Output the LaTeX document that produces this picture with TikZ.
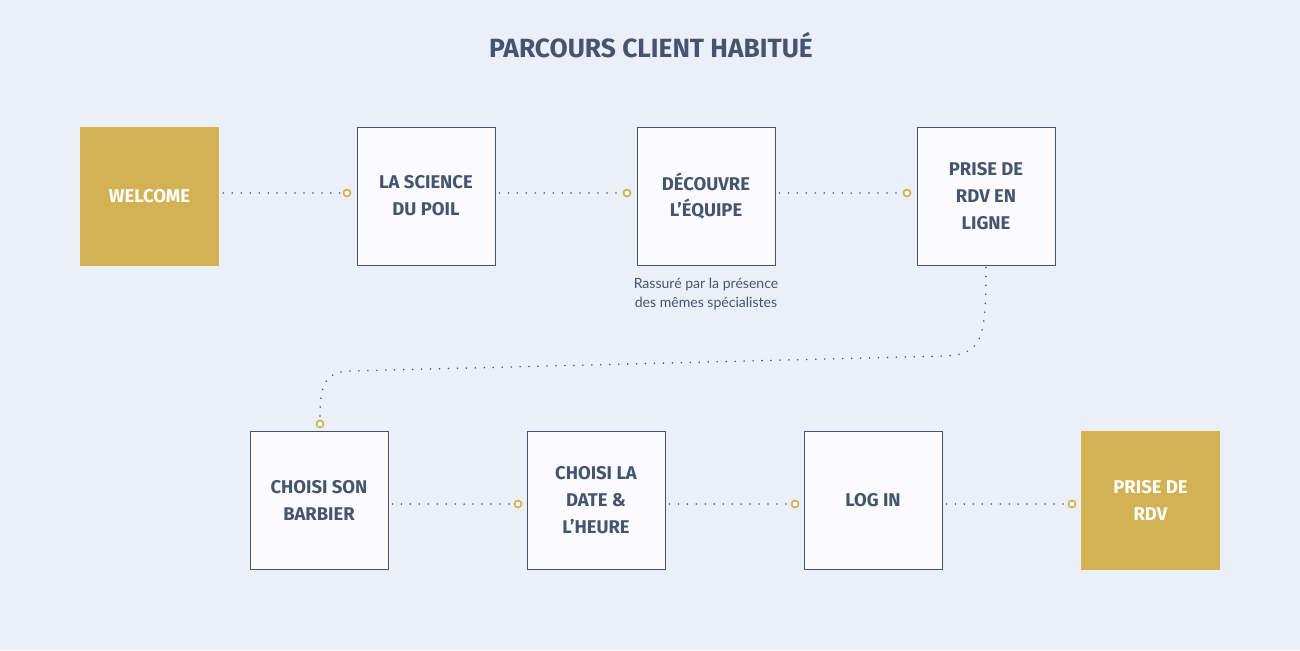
\documentclass[tikz,border=0pt]{standalone}
\usepackage{fontspec}
\setmainfont{Fira Sans}
\newfontfamily\notefont{Lato}
\usepackage{tikz}
\usetikzlibrary{positioning}
\definecolor{colorbg}{HTML}{EBF0F8}
\definecolor{colorgold}{HTML}{D3B155}
\definecolor{colorink}{HTML}{46556F}
\definecolor{colorbox}{HTML}{FBFAFC}
\tikzset{
  stepbox/.style={draw=colorink, fill=colorbox, line width=0.5pt, minimum size=2.76cm, inner sep=0pt, align=center, text=colorink, font=\bfseries\fontsize{10.5}{15.3}\selectfont},
  endbox/.style={fill=colorgold, minimum size=2.78cm, inner sep=0pt, align=center, text=white, font=\bfseries\fontsize{10.5}{15.3}\selectfont},
  ring/.style={circle, draw=colorgold, fill=colorbox, line width=1pt, minimum size=0.14cm, inner sep=0pt},
  lnk/.style={colorink, line width=1pt, line cap=round, dash pattern=on 0pt off 5.1pt, shorten <=0.08cm}
}

\begin{document}
\begin{tikzpicture}[x=0.02cm, y=-0.02cm]
\fill[colorbg] (0,0) rectangle (1300,650);
\useasboundingbox (0,0) rectangle (1300,650);
\node[text=colorink, font=\bfseries\fontsize{15}{18}\selectfont] (title) at (651,45) {PARCOURS CLIENT HABITUÉ};
% first row
\node[endbox] (w) at (149.5,196.5) {WELCOME};
\node[stepbox] (s) at (426,196) {LA SCIENCE\\DU POIL};
\node[stepbox] (d) at (706,196) {DÉCOUVRE\\L'ÉQUIPE};
\node[stepbox] (p) at (986,196) {PRISE DE\\RDV EN\\LIGNE};
\node[text=colorink, align=center, font=\notefont\fontsize{8}{11.3}\selectfont] (note) at (706,294) {Rassuré par la présence\\des mêmes spécialistes};
% second row
\node[stepbox] (b) at (319,500) {CHOISI SON\\BARBIER};
\node[stepbox] (h) at (596,500) {CHOISI LA\\DATE \&\\L'HEURE};
\node[stepbox] (l) at (873,500) {LOG IN};
\node[endbox] (r) at (1150.5,500.5) {PRISE DE\\RDV};
% rings
\node[ring] (rs) at (347,193) {};
\node[ring] (rd) at (627,193) {};
\node[ring] (rp) at (907,193) {};
\node[ring] (rb) at (320,424) {};
\node[ring] (rh) at (518,504) {};
\node[ring] (rl) at (795,504) {};
\node[ring] (rr) at (1072,504) {};
% links
\draw[lnk] (rs -| w.east) -- (rs);
\draw[lnk] (rd -| s.east) -- (rd);
\draw[lnk] (rp -| d.east) -- (rp);
\draw[lnk] (rh -| b.east) -- (rh);
\draw[lnk] (rl -| h.east) -- (rl);
\draw[lnk] (rr -| l.east) -- (rr);
\draw[lnk, shorten <=0.04cm] (p.south) .. controls (986,340) and (982,354) .. (945,356)
  -- (350,371) .. controls (324,372) and (320,385) .. (rb);
\end{tikzpicture}
\end{document}
